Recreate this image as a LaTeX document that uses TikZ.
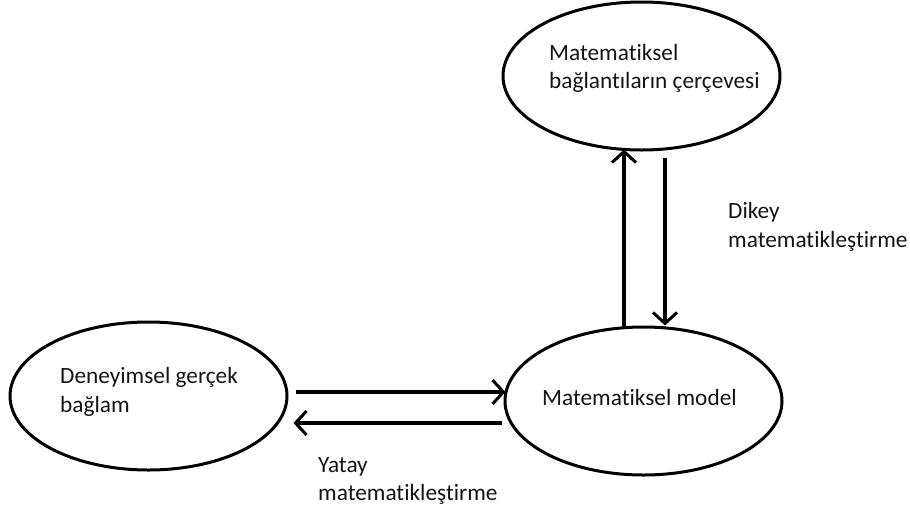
\documentclass[tikz,border=0pt]{standalone}
\usepackage{fontspec}
\setmainfont{Carlito}[Ligatures={NoCommon,NoContextual}]
\usetikzlibrary{shapes.geometric,arrows.meta}
\begin{document}
\begin{tikzpicture}[x=1pt,y=-1pt,
  oval/.style={draw,ellipse,line width=3pt,minimum width=277pt,minimum height=148pt,inner sep=0pt},
  txt/.style={anchor=base west,inner sep=0pt,font=\fontsize{23.3}{29}\selectfont,text=black!92},
  arr/.style={line width=3.8pt,-{Straight Barb[length=11pt,width=24pt,line width=3pt]}}]
\useasboundingbox (0,0) rectangle (910,512);
\node[oval] (T) at (641.5,76) {};
\node[oval] (L) at (148.5,396) {};
\node[oval] (M) at (643.5,401) {};
% texts
\node[txt] (t1) at (549,60) {Matematiksel};
\node[txt] (t2) at (549,88.5) {bağlantıların çerçevesi};
\node[txt] (l1) at (60,383) {Deneyimsel gerçek};
\node[txt] (l2) at (60,412) {bağlam};
\node[txt] (m1) at (542,405) {Matematiksel model};
\node[txt] (d1) at (728,218) {Dikey};
\node[txt] (d2) at (728,247) {matematikleştirme};
\node[txt] (y1) at (318,472) {Yatay};
\node[txt] (y2) at (318,500) {matematikleştirme};
% connectors
\draw[arr] ([shift={(7,-4)}]L.east) -- ([shift={(2,-9)}]M.west);
\draw[arr] ([shift={(-2,22)}]M.west) -- ([shift={(5,27)}]L.east);
\draw[arr,line width=3.5pt] ([shift={(-19.5,3)}]M.north) -- ([shift={(-17.5,-2)}]T.south);
\draw[arr,line width=3.5pt] ([shift={(23.5,6)}]T.south) -- ([shift={(21.5,0)}]M.north);
\end{tikzpicture}
\end{document}
